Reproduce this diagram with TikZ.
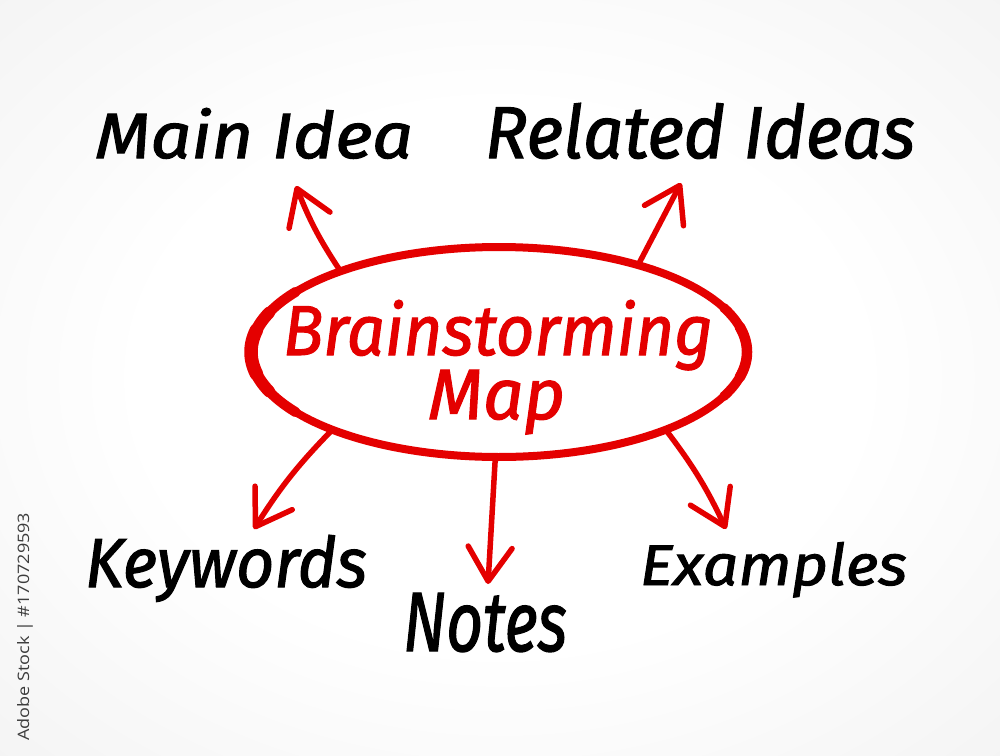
\documentclass[tikz,border=0pt]{standalone}
\usepackage{fontspec}
\usepackage{graphicx}
\usetikzlibrary{shapes.geometric,arrows.meta}
\newfontfamily\hand[FakeBold=1.6]{Fira Sans}
\newfontfamily\wmfont{Open Sans}
\definecolor{mred}{RGB}{228,0,0}
\definecolor{wmgray}{RGB}{60,60,60}
\pgfdeclareradialshading{bgshade}{\pgfpoint{0bp}{0bp}}{color(0bp)=(white); color(18bp)=(white); color(72bp)=(black!13)}
\tikzset{
  lbl/.style={anchor=base west, inner sep=0pt, outer sep=0pt, text=black},
  rlbl/.style={anchor=base west, inner sep=0pt, outer sep=0pt, text=mred},
  arr/.style={draw=mred, line width=5.5pt, line cap=round,
     -{Straight Barb[length=34pt, width=44pt, round]}},
  bubble/.style={ellipse, minimum width=496pt, minimum height=210pt, inner sep=0pt, outer sep=0pt},
  ring/.style={mred, line cap=round, line join=round, smooth, samples=60, variable=\t}
}
\begin{document}
\begin{tikzpicture}[x=1pt,y=-1pt]
\useasboundingbox (0,0) rectangle (1000,755);
\shade[shading=bgshade] (0,0) rectangle (1000,755);
% central bubble
\node[bubble] (c) at (499,352) {};
\draw[ring, line width=8pt, domain=0:360, samples=120] plot ({499+248*cos(\t)}, {352-105*sin(\t)}) -- cycle;
\foreach \a/\b/\w in {145/215/10, 158/202/12, 168/192/13.5, -25/25/9.5, -14/14/10.5}{
  \draw[ring, line width=\w pt, domain=\a:\b] plot ({499+248*cos(\t)}, {352-105*sin(\t)});
}
\node[rlbl] (t1) at (283,355) {\raisebox{0pt}[\height][0pt]{\resizebox{430pt}{55pt}{\hand\itshape Brainstorming}}};
\node[rlbl] (t2) at (428,419) {\resizebox{137pt}{49pt}{\hand\itshape Map}};
% labels
\node[lbl] (mi) at (95,158) {\resizebox{318pt}{50pt}{\hand\itshape Main Idea}};
\node[lbl] (ri) at (485,158) {\resizebox{430pt}{55pt}{\hand\itshape Related Ideas}};
\node[lbl] (kw) at (85,587) {\resizebox{282pt}{52pt}{\hand\itshape Keywords}};
\node[lbl] (no) at (403,651) {\resizebox{164pt}{58pt}{\hand\itshape Notes}};
\node[lbl] (ex) at (640,585) {\resizebox{267pt}{43pt}{\hand\itshape Examples}};
% arrow tips
\coordinate (pmi) at (296,186);
\coordinate (pri) at (681,183);
\coordinate (pkw) at (254,529);
\coordinate (pno) at (488,584);
\coordinate (pex) at (726,529);
\draw[arr] (c.153) to[bend left=6] (pmi);
\draw[arr] (c.32) -- (pri);
\draw[arr] (c.205) to[bend right=6] (pkw);
\draw[arr] (c.268) -- (pno);
\draw[arr] (c.335) to[bend left=6] (pex);
% stock credit
\node[rotate=90, anchor=base west, inner sep=0pt, text=wmgray] (wm) at (29,741) {\resizebox{228pt}{12pt}{\wmfont Adobe Stock | \#170729593}};
\end{tikzpicture}
\end{document}
